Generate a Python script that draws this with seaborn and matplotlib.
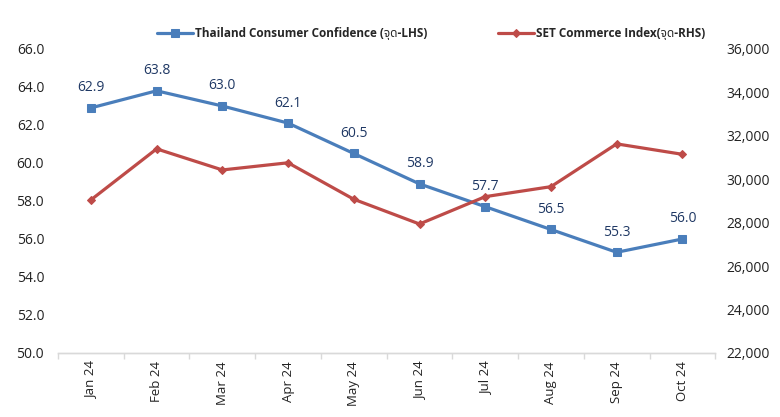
import pandas as pd
import matplotlib.pyplot as plt
import seaborn as sns
from matplotlib import font_manager
from matplotlib.ticker import FuncFormatter, FixedLocator

months = ['Jan 24', 'Feb 24', 'Mar 24', 'Apr 24', 'May 24',
          'Jun 24', 'Jul 24', 'Aug 24', 'Sep 24', 'Oct 24']
confidence = [62.9, 63.8, 63.0, 62.1, 60.5, 58.9, 57.7, 56.5, 55.3, 56.0]
set_commerce = [29050, 31400, 30430, 30760, 29080, 27940, 29200, 29660, 31630, 31150]

blue = '#4A7EBB'
red = '#BE4B48'
label_color = '#1F3864'

sns.set_theme(style="white")
# Thai glyphs for "จุด" in the legend come from a Thai-capable family
installed = {f.name for f in font_manager.fontManager.ttflist}
thai = [n for n in ['Noto Sans Thai', 'Sarabun', 'Niramit', 'Trirong'] if n in installed][:1]
plt.rcParams['font.family'] = ['Open Sans'] + thai + ['DejaVu Sans']

df = pd.DataFrame({'x': range(len(months)), 'conf': confidence, 'set': set_commerce})

fig = plt.figure(figsize=(7.8, 4.17), dpi=100)
ax = fig.add_axes([0.0744, 0.1535, 0.8426, 0.729])
ax2 = ax.twinx()

sns.lineplot(data=df, x='x', y='conf', ax=ax, color=blue, linewidth=2.3,
             marker='s', markersize=6, markeredgecolor=blue,
             label='Thailand Consumer Confidence (จุด-LHS)', legend=False)
sns.lineplot(data=df, x='x', y='set', ax=ax2, color=red, linewidth=2.3,
             marker='D', markersize=4.5, markeredgecolor=red,
             label='SET Commerce Index(จุด-RHS)', legend=False)

for i, v in enumerate(confidence):
    ax.annotate(f'{v:.1f}', (i, v), textcoords='offset points', xytext=(0, 9),
                ha='center', va='bottom', color=label_color, fontsize=10)

ax.set_xlim(-0.5, len(months) - 0.5)
ax.set_ylim(50, 66)
ax2.set_ylim(22000, 36000)
ax.set_yticks([50 + 2 * k for k in range(9)])
ax2.set_yticks([22000 + 2000 * k for k in range(8)])
ax.yaxis.set_major_formatter(FuncFormatter(lambda v, p: f'{v:.1f}'))
ax2.yaxis.set_major_formatter(FuncFormatter(lambda v, p: f'{int(v):,}'))

ax.set_xticks(range(len(months)))
ax.set_xticklabels(months, rotation=90)
ax.xaxis.set_minor_locator(FixedLocator([i - 0.5 for i in range(len(months) + 1)]))
ax.tick_params(axis='x', which='major', length=0, pad=6, labelsize=9.5, colors='#222222')
ax.tick_params(axis='x', which='minor', length=4, color='#D9D9D9', width=1, bottom=True)
ax.tick_params(axis='y', length=0, labelsize=10, colors='#222222', pad=10)
ax2.tick_params(axis='y', length=0, labelsize=10, colors='#222222', pad=8)

ax.set_xlabel('')
ax.set_ylabel('')
ax2.set_ylabel('')
for a in (ax, ax2):
    for s in ['top', 'left', 'right']:
        a.spines[s].set_visible(False)
    a.spines['bottom'].set_color('#D9D9D9')
    a.spines['bottom'].set_linewidth(1)
ax.grid(False)
ax2.grid(False)

h1, l1 = ax.get_legend_handles_labels()
h2, l2 = ax2.get_legend_handles_labels()
fig.legend(h1 + h2, l1 + l2, loc='center', bbox_to_anchor=(0.553, 0.92), ncol=2,
           frameon=False, prop={'weight': 'bold', 'size': 8.5}, columnspacing=6,
           handlelength=3, handletextpad=0.2)

fig.savefig('out.png', dpi=100)
